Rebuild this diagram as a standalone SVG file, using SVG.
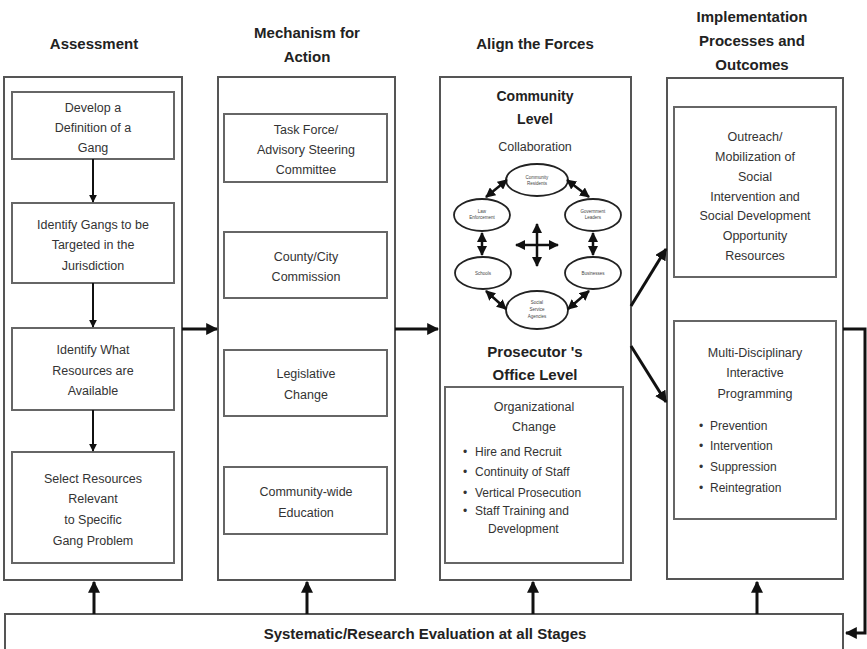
<svg xmlns="http://www.w3.org/2000/svg" width="867" height="649" viewBox="0 0 867 649">
<defs>
<marker id="ah" viewBox="0 0 10 10" refX="9" refY="5" markerWidth="4" markerHeight="4" orient="auto-start-reverse" markerUnits="strokeWidth">
<path d="M0,0 L10,5 L0,10 z" fill="#111"/>
</marker>
<marker id="ahs" viewBox="0 0 10 10" refX="9" refY="5" markerWidth="4" markerHeight="4" orient="auto-start-reverse" markerUnits="strokeWidth">
<path d="M0,0 L10,5 L0,10 z" fill="#111"/>
</marker>
<style>
.outer{fill:#fff;stroke:#555;stroke-width:2}
.inner{fill:#fff;stroke:#666;stroke-width:2}
.t{font-family:"Liberation Sans",Arial,sans-serif;font-size:12.5px;fill:#333;text-anchor:middle}
.tl{font-family:"Liberation Sans",Arial,sans-serif;font-size:12px;fill:#333}
.h{font-family:"Liberation Sans",Arial,sans-serif;font-size:15px;font-weight:bold;fill:#222;text-anchor:middle}
.hs{font-family:"Liberation Sans",Arial,sans-serif;font-size:14px;font-weight:bold;fill:#222;text-anchor:middle}
.e{fill:#fff;stroke:#222;stroke-width:1.8}
.et{font-family:"Liberation Sans",Arial,sans-serif;font-size:4.5px;fill:#444;text-anchor:middle}
.c{fill:none;stroke:#111;stroke-width:3;marker-end:url(#ah)}
.c2{fill:none;stroke:#111;stroke-width:2;marker-end:url(#ah)}
.d{fill:none;stroke:#111;stroke-width:2.5;marker-start:url(#ahs);marker-end:url(#ahs)}
</style>
</defs>
<rect width="867" height="649" fill="#fff"/>

<!-- Titles -->
<text class="h" x="94" y="49">Assessment</text>
<text class="h" x="307" y="38">Mechanism for</text>
<text class="h" x="307" y="62">Action</text>
<text class="h" x="535" y="49">Align the Forces</text>
<text class="h" x="752" y="22">Implementation</text>
<text class="h" x="752" y="46">Processes and</text>
<text class="h" x="752" y="70">Outcomes</text>

<!-- Column 1 -->
<g id="col-assessment">
<rect class="outer" x="4" y="77" width="178" height="503"/>
</g>
<g id="n-develop">
<rect class="inner" x="12" y="92" width="162" height="67"/>
<text class="t" x="93" y="112">Develop a</text>
<text class="t" x="93" y="132">Definition of a</text>
<text class="t" x="93" y="152">Gang</text>
</g>
<g id="n-identify-gangs">
<rect class="inner" x="12" y="203" width="162" height="80"/>
<text class="t" x="93" y="229">Identify Gangs to be</text>
<text class="t" x="93" y="249">Targeted in the</text>
<text class="t" x="93" y="270">Jurisdiction</text>
</g>
<g id="n-identify-resources">
<rect class="inner" x="12" y="328" width="162" height="82"/>
<text class="t" x="93" y="354">Identify What</text>
<text class="t" x="93" y="375">Resources are</text>
<text class="t" x="93" y="395">Available</text>
</g>
<g id="n-select">
<rect class="inner" x="12" y="452" width="162" height="111"/>
<text class="t" x="93" y="483">Select Resources</text>
<text class="t" x="93" y="503">Relevant</text>
<text class="t" x="93" y="524">to Specific</text>
<text class="t" x="93" y="545">Gang Problem</text>
</g>

<!-- Column 2 -->
<g id="col-mechanism">
<rect class="outer" x="218" y="77" width="177" height="503"/>
</g>
<g id="n-taskforce">
<rect class="inner" x="224" y="114" width="163" height="68"/>
<text class="t" x="306" y="134">Task Force/</text>
<text class="t" x="306" y="154">Advisory Steering</text>
<text class="t" x="306" y="174">Committee</text>
</g>
<g id="n-commission">
<rect class="inner" x="224" y="232" width="163" height="66"/>
<text class="t" x="306" y="261">County/City</text>
<text class="t" x="306" y="281">Commission</text>
</g>
<g id="n-legislative">
<rect class="inner" x="224" y="350" width="163" height="66"/>
<text class="t" x="306" y="378">Legislative</text>
<text class="t" x="306" y="399">Change</text>
</g>
<g id="n-education">
<rect class="inner" x="224" y="467" width="163" height="67"/>
<text class="t" x="306" y="496">Community-wide</text>
<text class="t" x="306" y="517">Education</text>
</g>

<!-- Column 3 -->
<g id="col-align">
<rect class="outer" x="440" y="77" width="191" height="503"/>
<text class="hs" x="535" y="101">Community</text>
<text class="hs" x="535" y="124">Level</text>
<text class="t" x="535" y="151">Collaboration</text>
<text class="h" x="535" y="357">Prosecutor 's</text>
<text class="h" x="535" y="380">Office Level</text>
</g>
<g id="n-residents">
<ellipse class="e" cx="537" cy="180" rx="31" ry="16"/>
<text class="et" x="537" y="179">Community</text>
<text class="et" x="537" y="185">Residents</text>
</g>
<g id="n-law">
<ellipse class="e" cx="482" cy="215" rx="28" ry="16"/>
<text class="et" x="482" y="213">Law</text>
<text class="et" x="482" y="219">Enforcement</text>
</g>
<g id="n-government">
<ellipse class="e" cx="593" cy="215" rx="28" ry="16"/>
<text class="et" x="593" y="213">Government</text>
<text class="et" x="593" y="219">Leaders</text>
</g>
<g id="n-schools">
<ellipse class="e" cx="483" cy="273" rx="28" ry="16"/>
<text class="et" x="483" y="275">Schools</text>
</g>
<g id="n-business">
<ellipse class="e" cx="593" cy="273" rx="28" ry="16"/>
<text class="et" x="593" y="275">Businesses</text>
</g>
<g id="n-social">
<ellipse class="e" cx="537" cy="310" rx="31" ry="19"/>
<text class="et" x="537" y="304">Social</text>
<text class="et" x="537" y="311">Service</text>
<text class="et" x="537" y="318">Agencies</text>
</g>
<g id="n-orgchange">
<rect class="inner" x="445" y="387" width="178" height="176"/>
<text class="t" x="534" y="411">Organizational</text>
<text class="t" x="534" y="431">Change</text>
<text class="tl" x="463" y="456">•</text><text class="tl" x="475" y="456">Hire and Recruit</text>
<text class="tl" x="463" y="476">•</text><text class="tl" x="475" y="476">Continuity of Staff</text>
<text class="tl" x="463" y="497">•</text><text class="tl" x="475" y="497">Vertical Prosecution</text>
<text class="tl" x="463" y="515">•</text><text class="tl" x="475" y="515">Staff Training and</text>
<text class="tl" x="488" y="533">Development</text>
</g>

<!-- Column 4 -->
<g id="col-implementation">
<rect class="outer" x="667" y="78" width="176" height="501"/>
</g>
<g id="n-outreach">
<rect class="inner" x="674" y="107" width="162" height="170"/>
<text class="t" x="755" y="141">Outreach/</text>
<text class="t" x="755" y="161">Mobilization of</text>
<text class="t" x="755" y="181">Social</text>
<text class="t" x="755" y="201">Intervention and</text>
<text class="t" x="755" y="220">Social Development</text>
<text class="t" x="755" y="240">Opportunity</text>
<text class="t" x="755" y="260">Resources</text>
</g>
<g id="n-multi">
<rect class="inner" x="674" y="321" width="162" height="198"/>
<text class="t" x="755" y="357">Multi-Disciplinary</text>
<text class="t" x="755" y="377">Interactive</text>
<text class="t" x="755" y="398">Programming</text>
<text class="tl" x="699" y="430">•</text><text class="tl" x="710" y="430">Prevention</text>
<text class="tl" x="699" y="450">•</text><text class="tl" x="710" y="450">Intervention</text>
<text class="tl" x="699" y="471">•</text><text class="tl" x="710" y="471">Suppression</text>
<text class="tl" x="699" y="492">•</text><text class="tl" x="710" y="492">Reintegration</text>
</g>

<!-- Bottom -->
<g id="n-evaluation">
<rect class="outer" x="5" y="614" width="838" height="45"/>
<text class="h" x="425" y="639">Systematic/Research Evaluation at all Stages</text>
</g>

<!-- Connectors -->
<g id="connectors">
<line class="c2" x1="93" y1="159" x2="93" y2="202"/>
<line class="c2" x1="93" y1="283" x2="93" y2="327"/>
<line class="c2" x1="93" y1="410" x2="93" y2="451"/>
<line class="c" x1="182" y1="329" x2="217" y2="329"/>
<line class="c" x1="395" y1="329" x2="438" y2="329"/>
<line class="c" x1="631" y1="306" x2="666" y2="249"/>
<line class="c" x1="631" y1="346" x2="666" y2="402"/>
<polyline class="c" points="843,329 865,329 865,633 846,633"/>
<line class="c" x1="94" y1="614" x2="94" y2="582"/>
<line class="c" x1="307" y1="614" x2="307" y2="582"/>
<line class="c" x1="533" y1="614" x2="533" y2="582"/>
<line class="c" x1="757" y1="614" x2="757" y2="582"/>
<line class="d" x1="486" y1="197" x2="507" y2="180"/>
<line class="d" x1="567" y1="180" x2="589" y2="197"/>
<line class="d" x1="482" y1="233" x2="482" y2="255"/>
<line class="d" x1="593" y1="233" x2="593" y2="255"/>
<line class="d" x1="486" y1="291" x2="506" y2="309"/>
<line class="d" x1="568" y1="309" x2="589" y2="291"/>
<line class="d" x1="516" y1="245" x2="558" y2="245"/>
<line class="d" x1="537" y1="224" x2="537" y2="266"/>
</g>
</svg>
